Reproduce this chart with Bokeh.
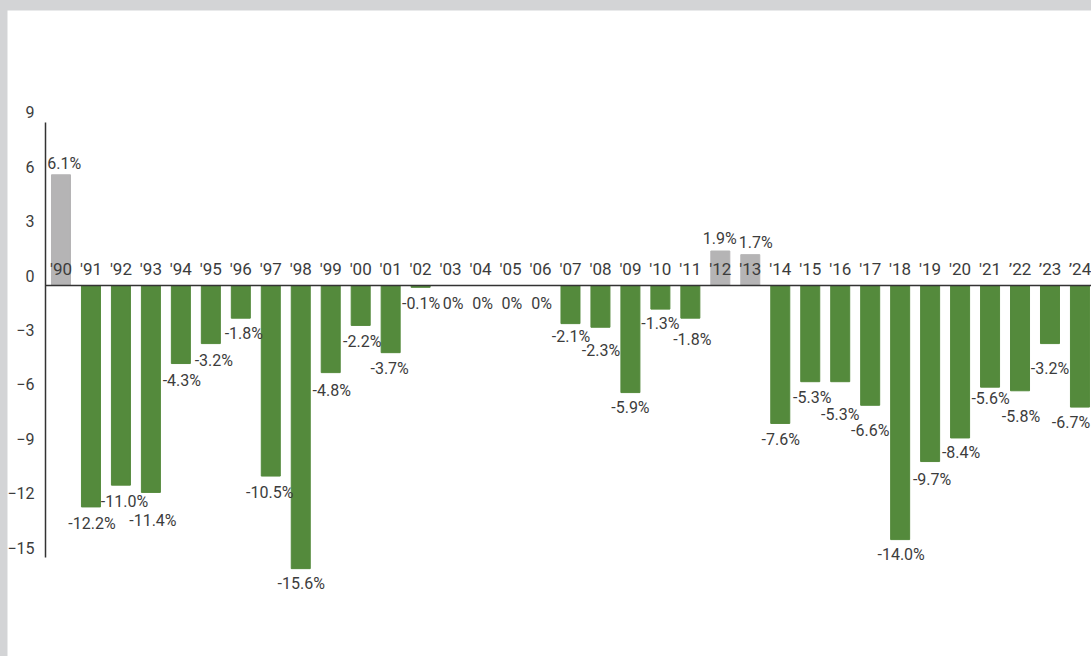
from bokeh.plotting import figure
from bokeh.models import ColumnDataSource, Range1d, LinearAxis, FixedTicker
from bokeh.core.properties import value
from bokeh.embed import file_html
from bokeh.resources import INLINE

# ---- data ----
years = ["'90", "'91", "'92", "'93", "'94", "'95", "'96", "'97", "'98", "'99",
         "'00", "'01", "'02", "'03", "'04", "'05", "'06", "'07", "'08", "'09",
         "'10", "'11", "'12", "'13", "'14", "'15", "'16", "'17", "'18", "'19",
         "'20", "'21", "’22", "’23", "’24"]
values = [6.1, -12.2, -11.0, -11.4, -4.3, -3.2, -1.8, -10.5, -15.6, -4.8,
          -2.2, -3.7, -0.1, 0, 0, 0, 0, -2.1, -2.3, -5.9,
          -1.3, -1.8, 1.9, 1.7, -7.6, -5.3, -5.3, -6.6, -14.0, -9.7,
          -8.4, -5.6, -5.8, -3.2, -6.7]
y_ticks = [9, 6, 3, 0, -3, -6, -9, -12, -15]

# ---- label placement (pixel offsets from the bar end) ----
label_dx = [3.3, 1, 3.5, 2, 1, 3, 3, -1, 0.5, 1, 1.5, -1, 0.5, 2.5, 2, 1.3, 1, 0.5,
            0.5, 0, 0, 2, -0.5, 5.5, 0.5, 2, 0, 0, 1, 2, 1, 0.5, 1, 0, -9]
label_dy = [-11.5, 16.3, 16.8, 28, 17, 17, 15.6, 16, 15.3, 18, 16.3, 16.3, 16.6,
            18.3, 18.3, 18.3, 18.3, 13.3, 23.7, 15, 14, 21, -13, -12, 15.7, 15.5,
            32.8, 25, 15.2, 18.3, 14.8, 11.6, 25.3, 24.8, 15]

GREEN = "#548a3c"
GREY = "#b5b4b5"
TEXT = "#3c3c3c"
LINE = "#333333"
FONT = "Roboto"

idx = list(range(len(years)))
colors = [GREY if v > 0 else GREEN for v in values]
texts = ["0%" if v == 0 else f"{v:.1f}%" for v in values]

src = ColumnDataSource(dict(x=idx, top=values, color=colors, text=texts,
                            dx=label_dx, dy=label_dy))

X0 = -0.517            # where the value axis crosses
Y_LO, Y_HI = -20.441, 15.152
p = figure(width=1084, height=646, output_backend="svg", toolbar_location=None,
           x_range=Range1d(-1.785, 34.385), y_range=Range1d(Y_LO, Y_HI),
           x_axis_location=None, y_axis_location=None,
           min_border_left=0, min_border_right=0, min_border_top=0,
           min_border_bottom=0)
p.outline_line_color = None
p.grid.visible = False
p.background_fill_color = "white"
p.border_fill_color = "white"

# bars
p.vbar(x="x", top="top", bottom=0, width=0.634, color="color", source=src)

# value labels
p.text(x="x", y="top", text="text", x_offset="dx", y_offset="dy", source=src,
       text_align="center", text_baseline="middle", text_color=TEXT,
       text_font=value(FONT), text_font_size="16px")

# vertical axis line only
ya = LinearAxis(ticker=FixedTicker(ticks=[]), fixed_location=X0,
                bounds=(min(y_ticks), max(y_ticks)))
ya.axis_line_color = LINE
ya.axis_line_width = 1.5
ya.major_tick_line_color = None
ya.minor_tick_line_color = None
ya.major_tick_out = 0
ya.major_tick_in = 0
ya.major_label_standoff = 0
p.add_layout(ya, "left")

# y tick labels (sit slightly above their tick positions)
shift = 10 / 18.15
p.extra_y_ranges = {"lab": Range1d(Y_LO - shift, Y_HI - shift)}
yl = LinearAxis(y_range_name="lab", ticker=FixedTicker(ticks=y_ticks),
                fixed_location=X0)
yl.axis_line_color = None
yl.major_tick_line_color = None
yl.minor_tick_line_color = None
yl.major_tick_out = 0
yl.major_tick_in = 0
yl.major_label_standoff = 11
yl.major_label_text_font = FONT
yl.major_label_text_font_size = "16px"
yl.major_label_text_color = TEXT
p.add_layout(yl, "left")

# year axis along the zero line, labels above it
xa = LinearAxis(ticker=FixedTicker(ticks=idx),
                major_label_overrides={i: y for i, y in zip(idx, years)},
                fixed_location=0, bounds=(X0, 40))
xa.axis_line_color = LINE
xa.axis_line_width = 1.5
xa.major_tick_line_color = None
xa.minor_tick_line_color = None
xa.major_tick_out = 0
xa.major_tick_in = 0
xa.major_label_standoff = 7
xa.major_label_text_font = FONT
xa.major_label_text_font_size = "17px"
xa.major_label_text_color = TEXT
p.add_layout(xa, "above")

html = file_html(p, INLINE)
style = ("<style>html{background:#d3d4d6 !important;overflow:hidden !important;}"
         "body{margin:0 !important;padding:10px 0 0 7px !important;"
         "box-sizing:border-box !important;background:#d3d4d6 !important;"
         "overflow:hidden !important;}</style>")
if "</head>" in html:
    html = html.replace("</head>", style + "</head>", 1)
else:
    html = style + html
open("out.html", "w").write(html)
